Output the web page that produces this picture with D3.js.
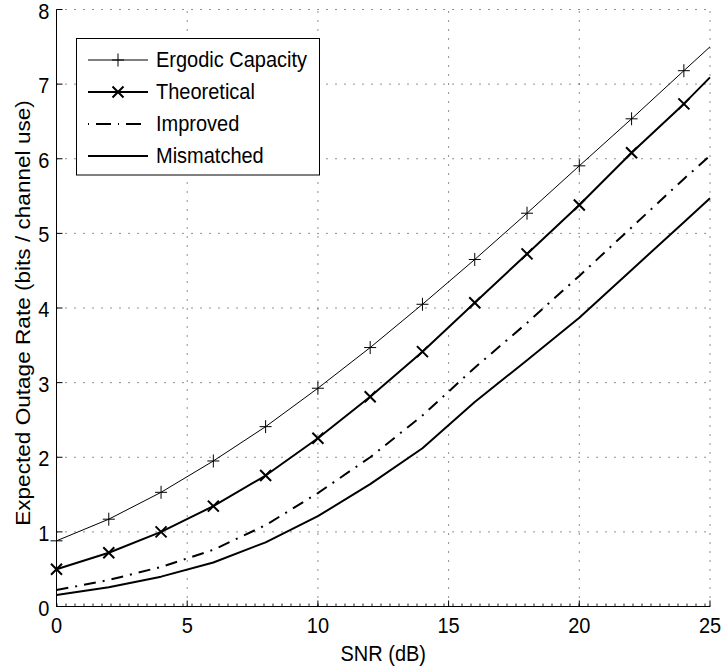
<!DOCTYPE html>
<html>
<head>
<meta charset="utf-8">
<script src="https://cdn.jsdelivr.net/npm/d3@7"></script>
<style>
  html, body { margin: 0; padding: 0; background: #fff; }
  svg { display: block; }
  text { font-family: "Liberation Sans", Arial, Helvetica, sans-serif; fill: #000; }
</style>
</head>
<body>
<svg id="chart" width="721" height="670"></svg>
<script>
// ---- data ----
const snr = [0, 2, 4, 6, 8, 10, 12, 14, 16, 18, 20, 22, 24, 25];
const ergodic     = [0.88, 1.17, 1.53, 1.95, 2.41, 2.925, 3.47, 4.05, 4.65, 5.27, 5.905, 6.535, 7.18, 7.50];
const theoretical = [0.50, 0.72, 1.00, 1.345, 1.755, 2.255, 2.81, 3.415, 4.07, 4.725, 5.38, 6.08, 6.735, 7.09];
const improved    = [0.22, 0.355, 0.53, 0.76, 1.09, 1.52, 2.00, 2.56, 3.20, 3.80, 4.43, 5.08, 5.73, 6.04];
const mismatched  = [0.155, 0.257, 0.40, 0.59, 0.86, 1.21, 1.64, 2.12, 2.74, 3.30, 3.87, 4.51, 5.15, 5.47];
const seriesNames = ["Ergodic Capacity", "Theoretical", "Improved", "Mismatched"];
const xTicks = [0, 5, 10, 15, 20, 25];
const yTicks = [0, 1, 2, 3, 4, 5, 6, 7, 8];
const xLabel = "SNR (dB)";
const yLabel = "Expected Outage Rate (bits / channel use)";

// ---- layout ----
const svg = d3.select("#chart");
const x = d3.scaleLinear().domain([0, 25]).range([56.5, 710]);
const y = d3.scaleLinear().domain([0, 8]).range([606.5, 9.5]);
const FS = 20, VS = 1.06, VSY = 1.13; // font size, vertical stretch

const styles = [
  { width: 1,   dash: null,          marker: "plus"  },
  { width: 2,   dash: null,          marker: "cross" },
  { width: 2,   dash: "12,7,2,7",    marker: null    },
  { width: 2,   dash: null,          marker: null    }
];
const seriesValues = [ergodic, theoretical, improved, mismatched];

// grid
const grid = svg.append("g");
grid.selectAll("line.gx").data(xTicks).join("line")
  .attr("x1", d => x(d)).attr("x2", d => x(d))
  .attr("y1", y(0)).attr("y2", y(8))
  .attr("stroke", "#222").attr("stroke-width", 1).attr("stroke-dasharray", "1,8");
grid.selectAll("line.gy").data(yTicks).join("line")
  .attr("x1", x(0)).attr("x2", x(25))
  .attr("y1", d => y(d) - (d === 0 ? 1.5 : 0)).attr("y2", d => y(d) - (d === 0 ? 1.5 : 0))
  .attr("stroke", "#222").attr("stroke-width", d => d === 0 ? 3 : 1).attr("stroke-dasharray", "1,8");

// axes lines
svg.append("line").attr("x1", x(0)).attr("x2", x(0)).attr("y1", y(0)).attr("y2", y(8))
  .attr("stroke", "#000").attr("stroke-width", 1);
svg.append("line").attr("x1", x(0)).attr("x2", x(25)).attr("y1", y(0)).attr("y2", y(0))
  .attr("stroke", "#000").attr("stroke-width", 1);

// ticks (inward)
svg.selectAll("line.xt").data(xTicks).join("line")
  .attr("x1", d => x(d)).attr("x2", d => x(d))
  .attr("y1", y(0)).attr("y2", y(0) - 6).attr("stroke", "#000");
svg.selectAll("line.yt").data(yTicks).join("line")
  .attr("x1", x(0)).attr("x2", x(0) + 6)
  .attr("y1", d => y(d)).attr("y2", d => y(d)).attr("stroke", "#000");

// tick labels
svg.selectAll("text.xl").data(xTicks).join("text")
  .attr("transform", d => `translate(${x(d)},633) scale(1,${VS})`)
  .attr("text-anchor", "middle").attr("font-size", FS).text(d => d);
svg.selectAll("text.yl").data(yTicks).join("text")
  .attr("transform", d => `translate(${x(0) - 7},${y(d) + 9}) scale(1,${VS})`)
  .attr("text-anchor", "end").attr("font-size", FS).text(d => d);

// axis labels
svg.append("text")
  .attr("transform", `translate(${(x(0) + x(25)) / 2},661) scale(1,${VS})`)
  .attr("text-anchor", "middle").attr("font-size", FS).text(xLabel);
svg.append("text")
  .attr("transform", `translate(30,${(y(0) + y(8)) / 2 + 5}) rotate(-90) scale(${VSY},1)`)
  .attr("text-anchor", "middle").attr("font-size", FS).text(yLabel);

// series lines
const line = d3.line().x(d => x(d[0])).y(d => y(d[1]));
seriesValues.forEach((vals, i) => {
  const pts = snr.map((s, j) => [s, vals[j]]);
  svg.append("path").datum(pts).attr("d", line)
    .attr("fill", "none").attr("stroke", "#000")
    .attr("stroke-width", styles[i].width)
    .attr("stroke-dasharray", styles[i].dash)
    .attr("stroke-linejoin", "round");
});

// markers
function drawMarker(g, type, cx, cy) {
  if (type === "plus") {
    g.append("path").attr("d", `M${cx - 6},${cy}H${cx + 6}M${cx},${cy - 6.5}V${cy + 6.5}`)
      .attr("stroke", "#000").attr("stroke-width", 1).attr("fill", "none");
  } else if (type === "cross") {
    const r = 5.5;
    g.append("path").attr("d", `M${cx - r},${cy - r}L${cx + r},${cy + r}M${cx - r},${cy + r}L${cx + r},${cy - r}`)
      .attr("stroke", "#000").attr("stroke-width", 2).attr("fill", "none");
  }
}
const mg = svg.append("g");
seriesValues.forEach((vals, i) => {
  if (!styles[i].marker) return;
  snr.forEach((s, j) => {
    if (s % 2 !== 0) return;
    drawMarker(mg, styles[i].marker, x(s), y(vals[j]));
  });
});

// legend
const lg = svg.append("g");
lg.append("rect").attr("x", 76.5).attr("y", 38.5).attr("width", 243).attr("height", 136.5)
  .attr("fill", "#fff").attr("stroke", "#000").attr("stroke-width", 1);
seriesNames.forEach((name, i) => {
  const ly = 60 + i * 32;
  lg.append("line").attr("x1", 88).attr("x2", 148).attr("y1", ly).attr("y2", ly)
    .attr("stroke", "#000").attr("stroke-width", styles[i].width)
    .attr("stroke-dasharray", styles[i].dash ? "1,7,15,7" : null);
  if (styles[i].marker) drawMarker(lg, styles[i].marker, 118, ly);
  lg.append("text").attr("transform", `translate(156,${ly + 6.5}) scale(1,${VS})`)
    .attr("font-size", FS).text(name);
});
</script>
</body>
</html>
